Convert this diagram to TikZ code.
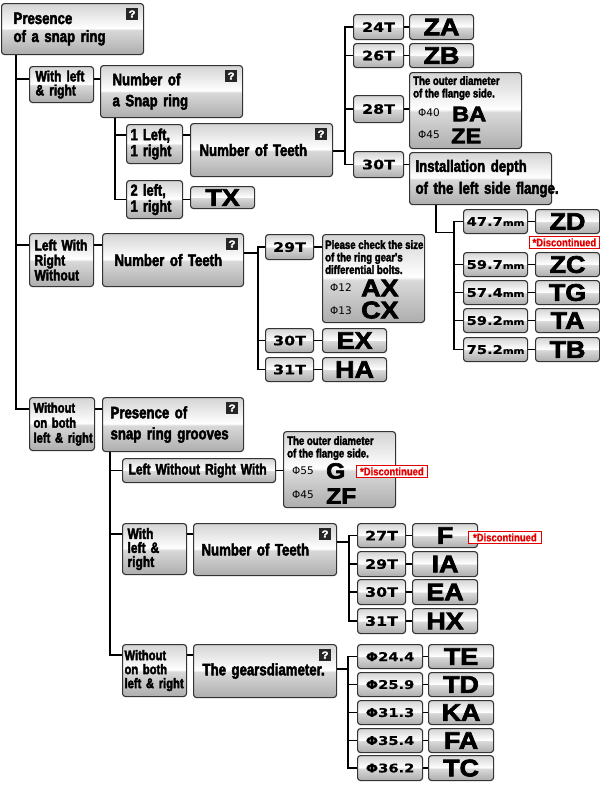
\documentclass[tikz,border=0pt]{standalone}
\usepackage{fontspec}
\usetikzlibrary{calc}
\newfontfamily\condf[FakeStretch=0.8,FakeBold=2.6,BoldFont={* Bold}]{Liberation Sans}
\newfontfamily\codef[FakeStretch=1.12,FakeBold=3,BoldFont={* Bold}]{Liberation Sans}
\newfontfamily\numf[FakeStretch=1.22,FakeBold=0.6]{DejaVu Sans}
\newfontfamily\phif{DejaVu Sans}
\newfontfamily\discf[FakeStretch=0.86,FakeBold=0.8,BoldFont={* Bold}]{Liberation Sans}
\pgfdeclareverticalshading{gloss}{100bp}{color(0bp)=(black!32); color(25bp)=(black!32); color(49bp)=(black!15); color(51bp)=(white); color(75bp)=(black!17); color(100bp)=(black!17)}
\pgfdeclarelayer{bg}
\pgfsetlayers{bg,main}
\newcommand\fC[2]{\condf\bfseries\fontsize{#1}{#2}\selectfont}
\newcommand\fK[1]{\codef\bfseries\fontsize{#1}{#1}\selectfont}
\newcommand\fN{\numf\bfseries\fontsize{13}{13}\selectfont}
\newcommand\fM{\numf\bfseries\fontsize{12}{12}\selectfont}
\newcommand\smm{{\fontsize{8.5}{8.5}\selectfont mm}}
\newcommand\fP{\phif\fontsize{10.5}{10.5}\selectfont}
\newcommand\fI{\condf\bfseries\fontsize{12}{12.5}\selectfont}
\tikzset{
  gbox/.style={draw=black!80, line width=1.1pt, rounded corners=3pt, shading=gloss, inner sep=0pt, text=black},
  qmark/.style={fill=black!85, text=white, minimum size=12pt, inner sep=0pt, font=\codef\bfseries\fontsize{10}{10}\selectfont},
  conn/.style={line width=1.8pt, black},
  disc/.style={draw=red!90!black, fill=white, text=red!90!black, line width=0.8pt, inner sep=0pt, minimum height=12pt, anchor=north west, font=\discf\bfseries\fontsize{11}{11}\selectfont},
  lbl/.style={inner sep=0pt, text=black}
}
% name x1 y1 x2 y2 pad font text
\newcommand\mkL[8]{%
  \pgfmathsetlengthmacro\mw{#4-#2}%
  \pgfmathsetlengthmacro\mh{#5-#3}%
  \pgfmathsetlengthmacro\tw{#4-#2-2*#6}%
  \node[gbox, anchor=north west, minimum width=\mw, minimum height=\mh, text width=\tw, inner xsep=#6pt, align=left, font=#7, execute at begin node={\hyphenpenalty=10000\exhyphenpenalty=10000}] (#1) at (#2,#3) {#8};}
% name x1 y1 x2 y2 font text
\newcommand\mkC[7]{%
  \pgfmathsetlengthmacro\mw{#4-#2}%
  \pgfmathsetlengthmacro\mh{#5-#3}%
  \node[gbox, anchor=north west, minimum width=\mw, minimum height=\mh, font=#6] (#1) at (#2,#3) {#7};}
\begin{document}
\begin{tikzpicture}[x=1pt,y=-1pt]
\useasboundingbox (0,0) rectangle (600,788);

% ---------- top branch ----------
\mkL{root}{1}{3}{143}{54}{12}{\fC{16.5}{18}}{Presence\\of~a~snap~ring}
\mkL{wlr}{29}{66}{93}{102}{6}{\fC{15}{14}}{With~left\\\&~right}
\mkL{nsr}{100}{65}{242}{117}{12}{\fC{16.5}{21}}{Number~of\\a~Snap~ring}
\mkL{l1}{126}{124}{182}{163}{4}{\fC{16}{16}}{1~Left,\\1~right}
\mkL{not1}{190}{123}{332}{176}{9}{\fC{16.5}{18}}{Number~of~Teeth}
\mkL{l2}{126}{180}{182}{218}{4}{\fC{16}{16}}{2~left,\\1~right}
\mkC{tx}{190}{186}{254}{208}{\fK{24}}{TX}

\mkC{t24}{353}{14}{403}{39}{\fN}{24T}
\mkC{za}{409}{14}{473}{39}{\fK{24}}{ZA}
\mkC{t26}{353}{43}{403}{67}{\fN}{26T}
\mkC{zb}{409}{43}{473}{67}{\fK{24}}{ZB}
\mkC{t28}{353}{95}{403}{122}{\fN}{28T}
\mkC{info1}{409}{72}{521}{148}{\fI}{}
\mkC{t30}{353}{151}{403}{177}{\fN}{30T}
\mkL{inst}{409}{152}{551}{204}{6}{\fC{16.5}{22}}{Installation~depth\\of~the~left~side~flange.}

\mkC{m1}{463}{209}{527}{233}{\fM}{47.7\smm}
\mkC{zd}{535}{209}{599}{233}{\fK{24}}{ZD}
\mkC{m2}{463}{252}{527}{276}{\fM}{59.7\smm}
\mkC{zc}{535}{252}{599}{276}{\fK{24}}{ZC}
\mkC{m3}{463}{280}{527}{304}{\fM}{57.4\smm}
\mkC{tg}{535}{280}{599}{304}{\fK{24}}{TG}
\mkC{m4}{463}{308}{527}{332}{\fM}{59.2\smm}
\mkC{ta}{535}{308}{599}{332}{\fK{24}}{TA}
\mkC{m5}{463}{337}{527}{361}{\fM}{75.2\smm}
\mkC{tb}{535}{337}{599}{361}{\fK{24}}{TB}

% ---------- middle branch ----------
\mkL{lwrw}{29}{233}{93}{286}{5}{\fC{15}{15}}{Left~With\\Right\\Without}
\mkL{not2}{102}{233}{243}{286}{12}{\fC{16.5}{18}}{Number~of~Teeth}
\mkC{t29}{265}{234}{313}{259}{\fN}{29T}
\mkC{info2}{322}{234}{424}{322}{\fI}{}
\mkC{t30b}{265}{328}{313}{352}{\fN}{30T}
\mkC{ex}{322}{328}{386}{352}{\fK{24}}{EX}
\mkC{t31}{265}{357}{313}{381}{\fN}{31T}
\mkC{ha}{322}{357}{386}{381}{\fK{24}}{HA}

% ---------- bottom branch ----------
\mkL{wob1}{29}{397}{94}{450}{4}{\fC{14}{15}}{Without\\on~both\\left~\&~right}
\mkL{psg}{102}{397}{243}{451}{8}{\fC{16.5}{21}}{Presence~of\\snap~ring~grooves}
\mkL{lwrwith}{122}{458}{275}{482}{6}{\fC{15}{15}}{Left~Without~Right~With}
\mkC{info3}{283}{431}{395}{507}{\fI}{}
\mkL{wlr2}{122}{523}{186}{574}{5}{\fC{15}{14}}{With\\left~\&\\right}
\mkL{not3}{193}{523}{336}{575}{8}{\fC{16.5}{18}}{Number~of~Teeth}
\mkC{t27}{357}{523}{405}{547}{\fN}{27T}
\mkC{cf}{412}{523}{477}{547}{\fK{24}}{F}
\mkC{t29b}{357}{551}{405}{576}{\fN}{29T}
\mkC{ia}{412}{551}{477}{576}{\fK{24}}{IA}
\mkC{t30c}{357}{579}{405}{604}{\fN}{30T}
\mkC{ea}{412}{579}{477}{604}{\fK{24}}{EA}
\mkC{t31b}{357}{608}{405}{633}{\fN}{31T}
\mkC{hx}{412}{608}{477}{633}{\fK{24}}{HX}
\mkL{wob2}{122}{644}{186}{696}{2}{\fC{14}{14}}{Without\\on~both\\left~\&~right}
\mkL{gd}{193}{644}{336}{697}{9}{\fC{16.5}{18}}{The~gearsdiameter.}
\mkC{p1}{357}{644}{422}{668}{\fM}{Φ24.4}
\mkC{te}{428}{644}{493}{668}{\fK{24}}{TE}
\mkC{p2}{357}{672}{422}{696}{\fM}{Φ25.9}
\mkC{td}{428}{672}{493}{696}{\fK{24}}{TD}
\mkC{p3}{357}{700}{422}{724}{\fM}{Φ31.3}
\mkC{ka}{428}{700}{493}{724}{\fK{24}}{KA}
\mkC{p4}{357}{728}{422}{752}{\fM}{Φ35.4}
\mkC{fa}{428}{728}{493}{752}{\fK{24}}{FA}
\mkC{p5}{357}{755}{422}{780}{\fM}{Φ36.2}
\mkC{tc}{428}{755}{493}{780}{\fK{24}}{TC}

% ---------- info box contents ----------
\node[lbl, anchor=north west, align=left, font=\fI] (i1t) at (413,76) {The~outer~diameter\\of~the~flange~side.};
\node[lbl, anchor=west, font=\fP] (i1a) at (418,113) {Φ40};
\node[lbl, anchor=west, font=\fK{21}] (i1b) at (452,114) {BA};
\node[lbl, anchor=west, font=\fP] (i1c) at (418,135) {Φ45};
\node[lbl, anchor=west, font=\fK{21}] (i1d) at (451,136) {ZE};

\node[lbl, anchor=north west, align=left, font=\fI] (i2t) at (325,240) {Please~check~the~size\\of~the~ring~gear's\\differential~bolts.};
\node[lbl, anchor=west, font=\fP] (i2a) at (330,288) {Φ12};
\node[lbl, anchor=west, font=\fK{24}] (i2b) at (361,288) {AX};
\node[lbl, anchor=west, font=\fP] (i2c) at (330,311) {Φ13};
\node[lbl, anchor=west, font=\fK{24}] (i2d) at (361,310) {CX};

\node[lbl, anchor=north west, align=left, font=\fI] (i3t) at (287,436) {The~outer~diameter\\of~the~flange~side.};
\node[lbl, anchor=west, font=\fP] (i3a) at (292,471) {Φ55};
\node[lbl, anchor=west, font=\fK{22}] (i3b) at (326,471) {G};
\node[lbl, anchor=west, font=\fP] (i3c) at (292,495) {Φ45};
\node[lbl, anchor=west, font=\fK{22}] (i3d) at (326,496) {ZF};

% ---------- discontinued labels ----------
\node[disc, minimum width=70pt] (d1) at (529,236) {*Discontinued};
\node[disc, minimum width=71pt] (d2) at (356,465) {*Discontinued};
\node[disc, minimum width=73pt] (d3) at (468,531) {*Discontinued};

% ---------- question marks ----------
\foreach \n in {root,nsr,not1,not2,psg,not3,gd}
  \node[qmark] (q-\n) at ([xshift=-12pt,yshift=-11pt]\n.north east) {?};

% ---------- connectors ----------
\begin{pgfonlayer}{bg}
\fill[white] (0,0) rectangle (600,788);
\coordinate (T) at ([xshift=15pt]root.south west);
\coordinate (wlrL) at ([yshift=-13pt]wlr.north west);
\coordinate (lwrwL) at ([yshift=-12pt]lwrw.north west);
\coordinate (wob1L) at ([yshift=-12pt]wob1.north west);
\draw[conn] (T) |- (wob1L);
\draw[conn] (T |- wlrL) -- (wlrL);
\draw[conn] (T |- lwrwL) -- (lwrwL);
\draw[conn] (wlrL -| wlr.east) -- (wlrL -| nsr.west);
% snap ring count
\coordinate (N) at ([xshift=15pt]nsr.south west);
\coordinate (l1L) at ([yshift=-11pt]l1.north west);
\draw[conn] (N) |- (l2.west);
\draw[conn] (N |- l1L) -- (l1L);
\draw[conn] (l1L -| l1.east) -- (l1L -| not1.west);
\draw[conn] (l2.east) -- (l2.east -| tx.west);
% teeth (top)
\coordinate (not1R) at ([yshift=-28pt]not1.north east);
\coordinate (S1) at ([xshift=12pt]not1R);
\draw[conn] (not1R) -- (S1);
\draw[conn] (t24.west) -| (S1 |- t30.west) -- (t30.west);
\draw[conn] (S1 |- t26.west) -- (t26.west);
\draw[conn] (S1 |- t28.west) -- (t28.west);
\draw[conn] (t24.east) -- (za.west);
\draw[conn] (t26.east) -- (zb.west);
\draw[conn] (t28.east) -- (t28.east -| info1.west);
\draw[conn] (t30.east) -- (t30.east -| inst.west);
% installation depth
\coordinate (I1) at ([xshift=27pt]inst.south west);
\coordinate (S2) at ($(m1.west)+(-9,11)$);
\draw[conn] (I1) |- (S2);
\draw[conn] (m1.west) -| (S2 |- m5.west) -- (m5.west);
\foreach \m in {m2,m3,m4} \draw[conn] (S2 |- \m.west) -- (\m.west);
\draw[conn] (m1.east) -- (zd.west);
\draw[conn] (m2.east) -- (zc.west);
\draw[conn] (m3.east) -- (tg.west);
\draw[conn] (m4.east) -- (ta.west);
\draw[conn] (m5.east) -- (tb.west);
% left with right without
\draw[conn] (lwrwL -| lwrw.east) -- (lwrwL -| not2.west);
\coordinate (not2R) at ([yshift=-20pt]not2.north east);
\coordinate (S3) at ([xshift=14pt]not2R);
\draw[conn] (not2R) -- (S3);
\draw[conn] (t29.west) -| (S3 |- t31.west) -- (t31.west);
\draw[conn] (S3 |- t30b.west) -- (t30b.west);
\draw[conn] (t29.east) -- (t29.east -| info2.west);
\draw[conn] (t30b.east) -- (ex.west);
\draw[conn] (t31.east) -- (ha.west);
% without on both
\draw[conn] (wob1L -| wob1.east) -- (wob1L -| psg.west);
\coordinate (P) at ([xshift=8pt]psg.south west);
\coordinate (wlr2L) at ([yshift=-11pt]wlr2.north west);
\coordinate (wob2L) at ([yshift=-11pt]wob2.north west);
\draw[conn] (P) |- (wob2L);
\draw[conn] (P |- lwrwith.west) -- (lwrwith.west);
\draw[conn] (P |- wlr2L) -- (wlr2L);
\draw[conn] (lwrwith.east) -- (lwrwith.east -| info3.west);
\draw[conn] (wlr2L -| wlr2.east) -- (wlr2L -| not3.west);
\coordinate (not3R) at ([yshift=-19pt]not3.north east);
\coordinate (S4) at ([xshift=12pt]not3R);
\draw[conn] (not3R) -- (S4);
\draw[conn] (t27.west) -| (S4 |- t31b.west) -- (t31b.west);
\draw[conn] (S4 |- t29b.west) -- (t29b.west);
\draw[conn] (S4 |- t30c.west) -- (t30c.west);
\draw[conn] (t27.east) -- (cf.west);
\draw[conn] (t29b.east) -- (ia.west);
\draw[conn] (t30c.east) -- (ea.west);
\draw[conn] (t31b.east) -- (hx.west);
\draw[conn] (wob2L -| wob2.east) -- (wob2L -| gd.west);
\coordinate (gdR) at ([yshift=-25pt]gd.north east);
\coordinate (S5) at ([xshift=11pt]gdR);
\draw[conn] (gdR) -- (S5);
\draw[conn] (p1.west) -| (S5 |- p5.west) -- (p5.west);
\foreach \m in {p2,p3,p4} \draw[conn] (S5 |- \m.west) -- (\m.west);
\draw[conn] (p1.east) -- (te.west);
\draw[conn] (p2.east) -- (td.west);
\draw[conn] (p3.east) -- (ka.west);
\draw[conn] (p4.east) -- (fa.west);
\draw[conn] (p5.east) -- (tc.west);
\end{pgfonlayer}
\end{tikzpicture}
\end{document}
